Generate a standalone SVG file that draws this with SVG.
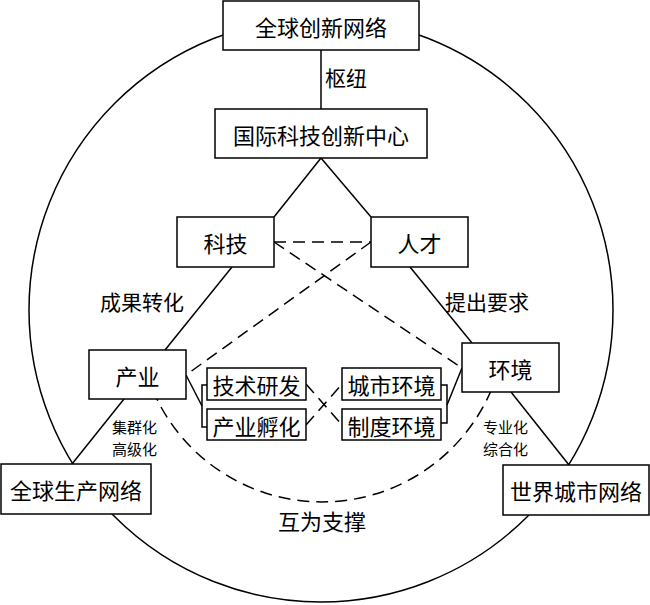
<svg xmlns="http://www.w3.org/2000/svg" width="650" height="605" viewBox="0 0 650 605">
<style>
.ln{stroke:#000;stroke-width:1.5;fill:none}
.ds{stroke:#000;stroke-width:1.5;fill:none;stroke-dasharray:12 7}
.bx{fill:#fff;stroke:#000;stroke-width:1.5}
.t{font-family:"Noto Sans CJK SC","Noto Sans CJK JP",sans-serif;font-size:22px;fill:#000;text-anchor:middle;dominant-baseline:central}
.lb{font-family:"Noto Sans CJK SC","Noto Sans CJK JP",sans-serif;font-size:21px;fill:#000;dominant-baseline:central}
.sm{font-family:"Noto Sans CJK SC","Noto Sans CJK JP",sans-serif;font-size:15px;fill:#000;dominant-baseline:central}
</style>
<rect width="650" height="605" fill="#fff"/>
<g id="connectors">
<circle class="ln" cx="321" cy="310" r="292"/>
<line class="ln" x1="321" y1="50" x2="321" y2="109"/>
<line class="ln" x1="321" y1="158" x2="274" y2="217"/>
<line class="ln" x1="321" y1="158" x2="371" y2="217"/>
<line class="ln" x1="232" y1="267" x2="165" y2="350"/>
<line class="ln" x1="410" y1="267" x2="472" y2="343"/>
<line class="ln" x1="124" y1="399" x2="72" y2="464"/>
<line class="ln" x1="511" y1="392" x2="569" y2="465"/>
<line class="ds" x1="274" y1="242" x2="371" y2="242"/>
<line class="ds" x1="274" y1="242" x2="462" y2="368"/>
<line class="ds" x1="371" y1="242" x2="186" y2="375"/>
<path class="ds" d="M152.7,390 A184,184 0 0 0 491.3,390"/>
<line class="ln" x1="186" y1="375" x2="202" y2="406"/>
<path class="ln" d="M207,385 H202 V427 H207"/>
<line class="ln" x1="462" y1="368" x2="447" y2="405"/>
<path class="ln" d="M441,385 H447 V423 H441"/>
<line class="ds" x1="306" y1="384" x2="342" y2="425"/>
<line class="ds" x1="306" y1="425" x2="342" y2="384"/>
</g>
<g id="n-global-innovation"><rect class="bx" x="223" y="1" width="196" height="49"/><text class="t" x="321" y="26">全球创新网络</text></g>
<g id="n-center"><rect class="bx" x="215" y="109" width="212" height="49"/><text class="t" x="321" y="134">国际科技创新中心</text></g>
<g id="n-tech"><rect class="bx" x="177" y="217" width="97" height="50"/><text class="t" x="225.5" y="242">科技</text></g>
<g id="n-talent"><rect class="bx" x="371" y="217" width="97" height="50"/><text class="t" x="419.5" y="242">人才</text></g>
<g id="n-industry"><rect class="bx" x="89" y="350" width="97" height="49"/><text class="t" x="137.5" y="375">产业</text></g>
<g id="n-env"><rect class="bx" x="462" y="343" width="97" height="49"/><text class="t" x="510.5" y="368">环境</text></g>
<g id="n-global-prod"><rect class="bx" x="1" y="464" width="150" height="50"/><text class="t" x="76" y="489">全球生产网络</text></g>
<g id="n-world-city"><rect class="bx" x="503" y="465" width="146" height="50"/><text class="t" x="576" y="490">世界城市网络</text></g>
<g id="n-rd"><rect class="bx" x="207" y="368" width="99" height="32"/><text class="t" x="256.5" y="384">技术研发</text></g>
<g id="n-incub"><rect class="bx" x="207" y="409" width="99" height="31"/><text class="t" x="256.5" y="425">产业孵化</text></g>
<g id="n-urban"><rect class="bx" x="342" y="368" width="99" height="32"/><text class="t" x="391.5" y="384">城市环境</text></g>
<g id="n-inst"><rect class="bx" x="342" y="409" width="99" height="31"/><text class="t" x="391.5" y="425">制度环境</text></g>
<g id="labels">
<text class="sm" x="112" y="426">集群化</text>
<text class="sm" x="112" y="448">高级化</text>
<text class="sm" x="483" y="426">专业化</text>
<text class="sm" x="483" y="448">综合化</text>
<text class="lb" x="325" y="77">枢纽</text>
<text class="lb" x="100" y="301">成果转化</text>
<text class="lb" x="445" y="301">提出要求</text>
<text class="t" x="322" y="520">互为支撑</text>
</g>
</svg>
